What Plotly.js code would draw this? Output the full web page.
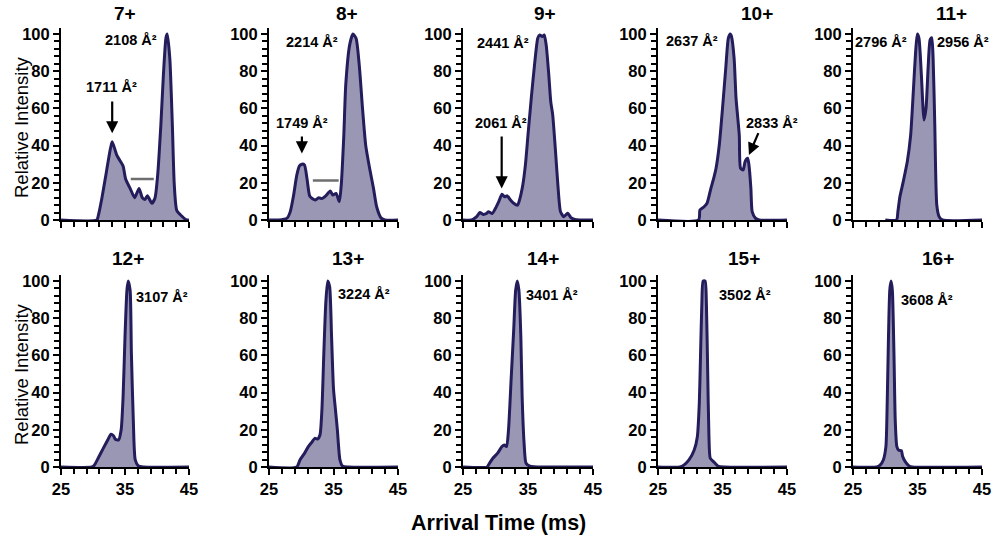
<!DOCTYPE html>
<html>
<head>
<meta charset="utf-8">
<script src="https://cdn.plot.ly/plotly-3.0.1.min.js"></script>
<style>
  html, body { margin: 0; padding: 0; background: #fff; }
  #chart { width: 996px; height: 540px; }
</style>
</head>
<body>
<div id="chart"></div>
<script>
// Arrival time distributions, one panel per charge state

var charges = ['7+', '8+', '9+', '10+', '11+', '12+', '13+', '14+', '15+', '16+'];

// arrival time (ms) / relative intensity
var t7  = [25, 30.6, 30.8, 31.4, 32.1, 32.7, 33.0, 33.7, 34.2, 34.7, 35.1, 35.8, 36.5, 36.8, 37.2, 37.7, 38.1, 38.5, 39.2, 39.7, 40.1, 40.6, 41.0, 41.4, 41.6, 42.0, 42.4, 42.7, 43.1, 43.9, 44.6, 45];
var i7  = [0, 0, 2, 12, 26, 38, 42, 35, 32, 29, 22, 17, 12, 14, 17, 12, 11, 13, 9, 12, 24, 51, 78, 98, 100, 87, 51, 19, 5, 2, 0, 0];
var t8  = [25, 26.5, 27.8, 28.3, 28.8, 29.3, 29.7, 30.1, 30.5, 30.9, 31.3, 31.7, 32.2, 32.7, 33.2, 33.8, 34.5, 34.9, 35.4, 35.9, 36.2, 36.6, 36.9, 37.5, 38.0, 38.5, 39.0, 39.5, 40.0, 40.6, 41.2, 41.7, 42.4, 43.0, 45];
var i8  = [0, 0, 1, 4.5, 13, 24, 29, 30, 29.6, 22, 13, 11.6, 10.8, 12, 11.5, 13, 15.6, 13.4, 14.3, 9.9, 18.8, 45.7, 72.6, 94, 100, 97.7, 83, 60, 40, 27.8, 17, 7, 1, 0, 0];
var t9  = [25, 26.3, 27.1, 27.6, 28.1, 28.6, 28.9, 29.5, 30.0, 30.5, 31.0, 31.4, 31.8, 32.3, 32.8, 33.4, 33.7, 34.2, 34.6, 35.0, 35.5, 36.0, 36.5, 36.8, 37.2, 37.5, 37.8, 38.2, 38.5, 38.8, 39.2, 39.6, 40.0, 40.5, 41.1, 41.6, 42.2, 42.9, 45];
var i9  = [0, 0, 1.8, 4, 3, 3.5, 4.5, 3.5, 6.3, 9.9, 13.8, 12.5, 13, 10.8, 9, 8, 10.8, 18.8, 29.6, 45.7, 65.4, 83.3, 97.7, 99.5, 98.6, 99.5, 94, 78, 63.6, 56.5, 38.5, 18.8, 4.5, 1.8, 3.6, 1.3, 0.3, 0, 0];
var t10 = [25, 31.3, 31.5, 32.1, 32.6, 33.2, 33.7, 34.0, 34.5, 35.0, 35.5, 35.9, 36.2, 36.4, 36.8, 37.1, 37.6, 37.8, 38.2, 38.5, 38.9, 39.1, 39.4, 39.6, 40.1, 40.7, 45];
var i10 = [0, 0, 5.4, 7, 9, 17, 23.3, 27.8, 40.3, 60, 81.5, 97.7, 100, 98.6, 87, 65.4, 45.7, 27.8, 26.9, 31.4, 33.2, 29.6, 17, 4.5, 1, 0, 0];
var t11 = [30, 31.75, 31.96, 32.27, 32.79, 33.42, 33.94, 34.35, 34.71, 34.97, 35.23, 35.6, 36.01, 36.32, 36.64, 36.95, 37.21, 37.42, 37.68, 37.99, 38.35, 38.87, 45];
var i11 = [0, 0, 4.5, 12.5, 20.6, 31.4, 45.7, 69, 90.5, 100, 97.7, 78, 53.8, 60, 81.5, 96.8, 98, 87, 51, 8, 1.8, 0, 0];
var t12 = [25, 29.8, 30.2, 30.8, 31.6, 32.3, 32.8, 33.2, 33.5, 34.0, 34.4, 34.7, 35.0, 35.3, 35.5, 35.8, 36.0, 36.3, 36.6, 37.1, 37.9, 45];
var i12 = [0, 0, 1, 4.7, 10, 14.5, 17.6, 16.8, 14.9, 14.5, 20, 37.8, 70, 95, 100, 95, 61, 25, 3.8, 0.5, 0, 0];
var t13 = [25, 29.3, 29.8, 30.5, 31.1, 31.7, 32.1, 32.5, 32.9, 33.2, 33.5, 33.8, 34.1, 34.4, 34.7, 35.0, 35.3, 35.6, 36.0, 36.4, 37.3, 45];
var i13 = [0, 0, 3.8, 7.3, 11, 13.6, 15.4, 15, 17.2, 30.6, 61, 88, 100, 97, 70, 42, 31, 20, 3.8, 0.5, 0, 0];
var t14 = [25, 28.7, 29.0, 29.6, 30.3, 31.0, 31.35, 31.7, 32.0, 32.4, 32.8, 33.1, 33.35, 33.6, 33.9, 34.1, 34.4, 34.7, 35.3, 37.4, 45];
var i14 = [0, 0, 1.6, 4.7, 7.3, 11, 11.8, 11, 20, 46.8, 73.7, 95, 100, 95, 70, 37.8, 12.7, 2, 0.5, 0, 0];
var t15 = [25, 28.4, 29.0, 29.8, 30.6, 31.1, 31.4, 31.6, 31.8, 32.0, 32.3, 32.5, 32.7, 32.9, 33.1, 33.6, 34.3, 35.3, 45];
var i15 = [0, 0, 1, 3.8, 9, 16.3, 34, 61, 88, 100, 100, 88, 52, 16.3, 4.7, 2.9, 0.5, 0, 0];
var t16 = [25, 28.65, 29.2, 29.7, 30.1, 30.3, 30.5, 30.7, 30.9, 31.1, 31.35, 31.55, 31.8, 32.1, 32.5, 32.7, 33.1, 33.7, 34.2, 45];
var i16 = [0, 0, 1, 3.8, 11, 34, 70, 95, 100, 95, 61, 25, 11, 9, 8.8, 5.6, 2.9, 0.5, 0, 0];

var times = [t7, t8, t9, t10, t11, t12, t13, t14, t15, t16];
var intens = [i7, i8, i9, i10, i11, i12, i13, i14, i15, i16];

// collision cross section labels: [panel, text, x, y]
var ccsLabels = [
  [0, '2108 Å²', 36.0, 96.8], [0, '1711 Å²', 32.9, 71.7],
  [1, '2214 Å²', 31.7, 95.9], [1, '1749 Å²', 30.1, 52],
  [2, '2441 Å²', 31.2, 95],   [2, '2061 Å²', 30.8, 52],
  [3, '2637 Å²', 30.3, 96],   [3, '2833 Å²', 42.7, 52],
  [4, '2796 Å²', 29.3, 95.9], [4, '2956 Å²', 42.0, 95.9],
  [5, '3107 Å²', 40.8, 91.5], [6, '3224 Å²', 39.7, 93],
  [7, '3401 Å²', 38.7, 92.5], [8, '3502 Å²', 38.5, 92.5],
  [9, '3608 Å²', 36.5, 90]
];
// arrows: [panel, tailX, tailY, tipX, tipY]
var arrows = [
  [0, 33.0, 64.5, 33.0, 46.6],
  [1, 30.1, 45.7, 30.1, 35.8],
  [2, 30.95, 45.7, 30.95, 17],
  [3, 40.66, 47.5, 39.1, 35]
];
// grey bars: [panel, x0, x1, y]
var greyBars = [[0, 35.9, 39.5, 22], [1, 31.8, 35.8, 21.3]];

var W = 996, H = 540;
var colPx = [[61, 189], [269, 398], [463, 593], [658, 787], [853, 982]];
var rowPx = [[220, 28.4], [467, 275.4]];
var titlePx = [[125, 14], [347, 14], [545, 14], [757, 14], [951, 14],
               [128, 258], [348, 258], [543, 258], [744, 258], [938, 258]];

var FONT = "'Liberation Sans', Arial, sans-serif";
var lineCol = '#231d5c';
var fillCol = 'rgb(154,151,181)';

var data = [];
var layout = {
  width: W, height: H,
  margin: {l: 0, r: 0, t: 0, b: 0},
  paper_bgcolor: '#fff', plot_bgcolor: 'rgba(0,0,0,0)',
  showlegend: false,
  font: {family: FONT, color: '#000'},
  annotations: [],
  shapes: []
};

function ax(i) { return i === 0 ? '' : String(i + 1); }

for (let i = 0; i < 10; i++) {
  var row = i < 5 ? 0 : 1;
  var col = i % 5;
  data.push({
    x: times[i], y: intens[i],
    xaxis: 'x' + ax(i), yaxis: 'y' + ax(i),
    type: 'scatter', mode: 'lines',
    line: {color: lineCol, width: 3, shape: 'spline', smoothing: 0.6},
    fill: 'tozeroy', fillcolor: fillCol,
    hoverinfo: 'x+y'
  });
  layout['xaxis' + ax(i)] = {
    domain: [colPx[col][0] / W, colPx[col][1] / W],
    anchor: 'y' + ax(i),
    range: [25, 45], fixedrange: true,
    showgrid: false, zeroline: false,
    showline: true, linecolor: '#000', linewidth: 2,
    ticks: 'outside', ticklen: 6, tickwidth: 2, tickcolor: '#000',
    tickmode: 'linear', tick0: 25, dtick: 10,
    minor: {tick0: 25, dtick: 2, ticks: 'outside', ticklen: 5, tickwidth: 2, tickcolor: '#000', showgrid: false},
    showticklabels: row === 1,
    tickfont: {family: FONT, size: 16.5, weight: 'bold'}
  };
  layout['yaxis' + ax(i)] = {
    domain: [1 - rowPx[row][0] / H, 1 - rowPx[row][1] / H],
    anchor: 'x' + ax(i),
    range: [0, 103], fixedrange: true,
    showgrid: false, zeroline: false,
    showline: true, linecolor: '#000', linewidth: 2,
    ticks: 'outside', ticklen: 6, tickwidth: 2, tickcolor: '#000',
    tickmode: 'linear', tick0: 0, dtick: 20,
    minor: {tick0: 0, dtick: 4, ticks: 'outside', ticklen: 5, tickwidth: 2, tickcolor: '#000', showgrid: false},
    tickfont: {family: FONT, size: 16.5, weight: 'bold'}
  };
  layout.annotations.push({
    xref: 'paper', yref: 'paper',
    x: titlePx[i][0] / W, y: 1 - titlePx[i][1] / H,
    xanchor: 'center', yanchor: 'middle',
    text: charges[i], showarrow: false,
    font: {family: FONT, size: 19, weight: 'bold'}
  });
}

ccsLabels.forEach(function (l) {
  layout.annotations.push({
    xref: 'x' + ax(l[0]), yref: 'y' + ax(l[0]),
    x: l[2], y: l[3], xanchor: 'center', yanchor: 'middle',
    text: l[1], showarrow: false,
    font: {family: FONT, size: 14.5, weight: 'bold'}
  });
});

arrows.forEach(function (a) {
  layout.annotations.push({
    xref: 'x' + ax(a[0]), yref: 'y' + ax(a[0]),
    axref: 'x' + ax(a[0]), ayref: 'y' + ax(a[0]),
    x: a[3], y: a[4], ax: a[1], ay: a[2],
    text: '', showarrow: true,
    arrowhead: 2, arrowsize: 1.1, arrowwidth: 2.2, arrowcolor: '#000', standoff: 0
  });
});

greyBars.forEach(function (b) {
  layout.shapes.push({
    type: 'line', xref: 'x' + ax(b[0]), yref: 'y' + ax(b[0]),
    x0: b[1], x1: b[2], y0: b[3], y1: b[3],
    line: {color: '#6e6e6e', width: 2.5}
  });
});

// shared axis titles
[127, 374].forEach(function (py) {
  layout.annotations.push({
    xref: 'paper', yref: 'paper', x: 22 / W, y: 1 - py / H,
    xanchor: 'center', yanchor: 'middle',
    text: 'Relative Intensity', textangle: -90, showarrow: false,
    font: {family: FONT, size: 18.5}
  });
});
layout.annotations.push({
  xref: 'paper', yref: 'paper', x: 498 / W, y: 1 - 523 / H,
  xanchor: 'center', yanchor: 'middle',
  text: 'Arrival Time (ms)', showarrow: false,
  font: {family: FONT, size: 21.5, weight: 'bold'}
});

Plotly.newPlot('chart', data, layout, {displayModeBar: false, staticPlot: true});
</script>
</body>
</html>
